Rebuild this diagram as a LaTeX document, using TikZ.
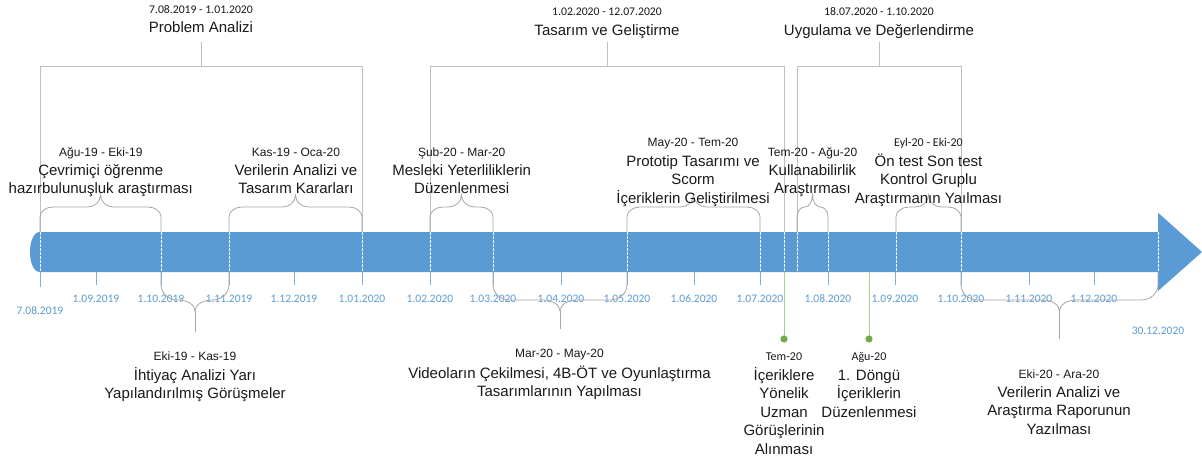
\documentclass[tikz,border=0pt]{standalone}
\usepackage{fontspec}
\setmainfont{Liberation Sans}
\newfontfamily\calfont{Carlito}
\definecolor{barblue}{HTML}{5B9BD5}
\definecolor{tickblue}{HTML}{7EB0E0}
\definecolor{brkgray}{HTML}{BFBFBF}
\definecolor{brcgray}{HTML}{A6A6A6}
\definecolor{gline}{HTML}{A9D18E}
\definecolor{gdot}{HTML}{70AD47}
\definecolor{txt}{HTML}{1A1A1A}
\newcommand{\ubr}[2]{%
  \pgfmathsetmacro{\bxm}{(#1+#2)/2}%
  \pgfmathsetmacro{\brr}{min(13,(#2-#1)/4)}%
  \draw[brace] (#1,232) -- (#1,217)
    .. controls (#1,211.5) and ({#1+0.448*\brr},207) .. ({#1+\brr},207)
    -- ({\bxm-\brr},207)
    .. controls ({\bxm-0.448*\brr},207) and (\bxm,201.6) .. (\bxm,195)
    .. controls (\bxm,201.6) and ({\bxm+0.448*\brr},207) .. ({\bxm+\brr},207)
    -- ({#2-\brr},207)
    .. controls ({#2-0.448*\brr},207) and (#2,211.5) .. (#2,217) -- (#2,232);}
\newcommand{\lbr}[3]{%
  \pgfmathsetmacro{\bxm}{(#1+#2)/2}%
  \pgfmathsetmacro{\brr}{min(17,(#2-#1)/4)}%
  \draw[brace] (#1,272) -- (#1,285)
    .. controls (#1,293.3) and ({#1+0.448*\brr},300) .. ({#1+\brr},300)
    -- ({\bxm-\brr},300)
    .. controls ({\bxm-0.448*\brr},300) and (\bxm,304.9) .. (\bxm,311)
    .. controls (\bxm,304.9) and ({\bxm+0.448*\brr},300) .. ({\bxm+\brr},300)
    -- ({#2-\brr},300)
    .. controls ({#2-0.448*\brr},300) and (#2,293.3) .. (#2,285) -- (#2,272);
  \draw[brace] (\bxm,311) -- (\bxm,#3);}
\tikzset{
  brace/.style={draw=brcgray, line width=0.8pt},
  bracket/.style={draw=brkgray, line width=0.8pt},
  barcut/.style={draw=white, line width=0.6pt, dash pattern=on 2.5pt off 1.5pt},
  axtick/.style={draw=tickblue, line width=0.8pt},
  axlabel/.style={font=\calfont\fontsize{11.5}{13}\selectfont, text=barblue, anchor=base, inner sep=0pt},
  topdate/.style={font=\calfont\fontsize{11.7}{13}\selectfont, text=txt, anchor=base, inner sep=0pt},
  title/.style={font=\fontsize{15}{18.5}\selectfont, text=txt, anchor=base, inner sep=0pt},
  mdate/.style={font=\fontsize{12}{14}\selectfont, text=txt, anchor=base, inner sep=0pt},
  cdate/.style={font=\calfont\fontsize{12}{14}\selectfont, text=txt, anchor=base, inner sep=0pt},
  body/.style={font=\fontsize{15}{18.5}\selectfont, text=txt, align=center, anchor=base, inner sep=0pt},
}
\begin{document}
\begin{tikzpicture}[x=1pt,y=-1pt]
\useasboundingbox[fill=white] (0,0) rectangle (1202,461);

% top-level brackets
\draw[bracket] (40,232) -- (40,66) -- (362,66) -- (362,232);
\draw[bracket] (201,66) -- (201,42);
\draw[bracket] (430,232) -- (430,66) -- (784,66) -- (784,232);
\draw[bracket] (607,66) -- (607,42);
\draw[bracket] (797,232) -- (797,66) -- (961,66) -- (961,232);
\draw[bracket] (879,66) -- (879,42);

\node[topdate] (pdate) at (201,13.8) {7.08.2019 - 1.01.2020};
\node[title] (ptitle) at (201,32.7) {Problem Analizi};
\node[topdate] (tdate) at (607,15.5) {1.02.2020 - 12.07.2020};
\node[title] (ttitle) at (607,35) {Tasarım ve Geliştirme};
\node[topdate] (udate) at (879,15.5) {18.07.2020 - 1.10.2020};
\node[title] (utitle) at (879,35) {Uygulama ve Değerlendirme};

% upper braces
\ubr{40}{161}
\ubr{229}{362}
\ubr{430}{493}
\ubr{627}{760}
\ubr{797}{828}
\ubr{896}{961}

% upper brace labels (multi-line nodes: base = last line)
\node[mdate] (b1d) at (100.8,156.3) {Ağu-19 - Eki-19};
\node[body] (b1t) at (100.8,193.9) {Çevrimiçi öğrenme\\hazırbulunuşluk araştırması};
\node[mdate] (b2d) at (296,156.3) {Kas-19 - Oca-20};
\node[body] (b2t) at (296,193.9) {Verilerin Analizi ve\\Tasarım Kararları};
\node[mdate] (b3d) at (461.7,156.3) {Şub-20 - Mar-20};
\node[body] (b3t) at (461.7,193.9) {Mesleki Yeterliliklerin\\Düzenlenmesi};
\node[mdate] (b4d) at (693,146.3) {May-20 - Tem-20};
\node[body] (b4t) at (693,203.4) {Prototip Tasarımı ve\\Scorm\\İçeriklerin Geliştirilmesi};
\node[mdate] (b5d) at (812.5,156.3) {Tem-20 - Ağu-20};
\node[body] (b5t) at (812.5,193.9) {Kullanabilirlik\\Araştırması};
\node[cdate] (b6d) at (928.5,146.5) {Eyl-20 - Eki-20};
\node[body] (b6t) at (928.5,203.4) {Ön test Son test\\Kontrol Gruplu\\Araştırmanın Yaılması};

% bar
\fill[barblue] (40,232) -- (1158,232) -- (1158,212.7) -- (1202,252) -- (1158,291) -- (1158,272) -- (40,272)
  .. controls (26.7,272) and (26.7,232) .. (40,232) -- cycle;
\foreach \x in {40,161,229,362,430,493,627,760,784,797,828,896,961,1158}
  \draw[barcut] (\x,232) -- (\x,272);

% axis ticks and labels
\draw[axtick] (40,272) -- (40,287);
\foreach \x/\l in {96/1.09.2019,161/1.10.2019,229/1.11.2019,294/1.12.2019,362/1.01.2020,
  430/1.02.2020,493/1.03.2020,561/1.04.2020,627/1.05.2020,694/1.06.2020,760/1.07.2020,
  828/1.08.2020,895/1.09.2020,961/1.10.2020,1029/1.11.2020,1094/1.12.2020}{
  \draw[axtick] (\x,272) -- (\x,285);
  \node[axlabel] at (\x,302.6) {\l};
}
\node[axlabel] (start) at (40,314.6) {7.08.2019};
\node[axlabel] (end) at (1158,334.6) {30.12.2020};

% lower braces
\lbr{161}{229}{332}
\lbr{493}{627}{329}
\lbr{961}{1158}{339}

\node[mdate] (l1d) at (195,360.3) {Eki-19 - Kas-19};
\node[body] (l1t) at (195,398.9) {İhtiyaç Analizi Yarı\\Yapılandırılmış Görüşmeler};
\node[mdate] (l2d) at (559.5,357.3) {Mar-20 - May-20};
\node[body] (l2t) at (559.5,396.9) {Videoların Çekilmesi, 4B-ÖT ve Oyunlaştırma\\Tasarımlarının Yapılması};
\node[mdate] (l3d) at (1059,378.3) {Eki-20 - Ara-20};
\node[body] (l3t) at (1059,434.4) {Verilerin Analizi ve\\Araştırma Raporunun\\Yazılması};

% milestones
\coordinate (m1top) at (784,272);
\coordinate (m2top) at (869,272);
\coordinate (m1) at (784,339);
\coordinate (m2) at (869,339);
\draw[gline, line width=1pt] (m1top) -- (m1);
\draw[gline, line width=1pt] (m2top) -- (m2);
\fill[gdot] (m1) circle[radius=3.6pt];
\fill[gdot] (m2) circle[radius=3.6pt];
\node[cdate] (g1d) at (784,360.3) {Tem-20};
\node[body] (g1t) at (784,454.4) {İçeriklere\\Yönelik\\Uzman\\Görüşlerinin\\Alınması};
\node[cdate] (g2d) at (869,360.3) {Ağu-20};
\node[body] (g2t) at (869,417.4) {1. Döngü\\İçeriklerin\\Düzenlenmesi};
\end{tikzpicture}
\end{document}
